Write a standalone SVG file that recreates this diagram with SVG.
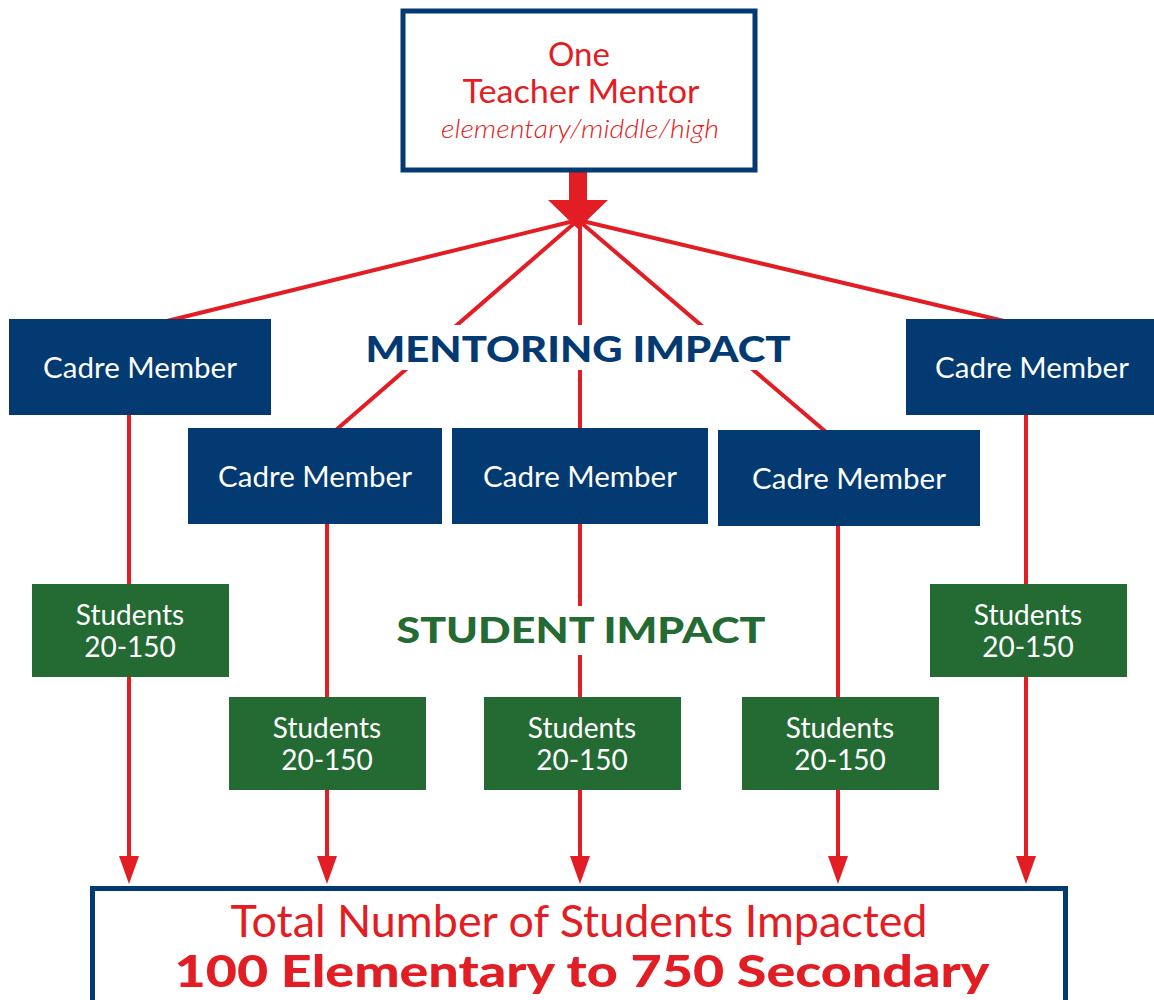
<svg xmlns="http://www.w3.org/2000/svg" width="1154" height="1000" viewBox="0 0 1154 1000">
<style>
.cadre rect{fill:#033a72}
.cadre text{fill:#fff;font-family:Lato,"Liberation Sans",sans-serif;font-size:29.5px;text-anchor:middle}
.stud rect{fill:#246a33}
.stud text{fill:#fff;font-family:Lato,"Liberation Sans",sans-serif;font-size:28px;text-anchor:middle}
.red{fill:#e31d24}
.conn line{stroke:#e31d24;stroke-width:4}
.head{font-family:Lato,"Liberation Sans",sans-serif;font-weight:900;font-size:36px;text-anchor:middle}
</style>
<defs>
<marker id="ah" markerUnits="userSpaceOnUse" markerWidth="28" markerHeight="20" refX="0" refY="10" orient="auto" viewBox="0 0 28 20">
<path d="M0,0 L28,10 L0,20 z" fill="#e31d24"/>
</marker>
</defs>
<rect width="1154" height="1000" fill="#fff"/>
<g id="connectors" class="conn">
<line x1="578" y1="220" x2="167" y2="321"/>
<line x1="578" y1="220" x2="336" y2="430"/>
<line x1="580" y1="220" x2="580" y2="430"/>
<line x1="578" y1="220" x2="826" y2="432"/>
<line x1="578" y1="220" x2="1004" y2="321"/>
<line x1="129" y1="414" x2="129" y2="856" marker-end="url(#ah)"/>
<line x1="327" y1="523" x2="327" y2="856" marker-end="url(#ah)"/>
<line x1="580" y1="523" x2="580" y2="856" marker-end="url(#ah)"/>
<line x1="838" y1="525" x2="838" y2="856" marker-end="url(#ah)"/>
<line x1="1026" y1="414" x2="1026" y2="856" marker-end="url(#ah)"/>
<polygon class="red" points="569,170 587,170 587,200 608,200 578,229 548,200 569,200"/>
</g>
<g id="mentor">
<rect x="403" y="11" width="352" height="159" fill="#fff" stroke="#033a72" stroke-width="5"/>
<text x="579" y="66" text-anchor="middle" font-family="Lato,'Liberation Sans',sans-serif" font-size="33" fill="#e31d24">One</text>
<text x="581" y="103" text-anchor="middle" font-family="Lato,'Liberation Sans',sans-serif" font-size="33" fill="#e31d24" textLength="237" lengthAdjust="spacingAndGlyphs">Teacher Mentor</text>
<text x="580" y="138" text-anchor="middle" font-family="Lato,'Liberation Sans',sans-serif" font-style="italic" font-weight="300" font-size="26" fill="#e31d24" textLength="278" lengthAdjust="spacingAndGlyphs">elementary/middle/high</text>
</g>
<g id="label-mentoring">
<rect x="355" y="325" width="445" height="45" fill="#fff"/>
<text class="head" x="578" y="362" fill="#033a72" textLength="425" lengthAdjust="spacingAndGlyphs">MENTORING IMPACT</text>
</g>
<g id="label-student">
<rect x="388" y="606" width="388" height="49" fill="#fff"/>
<text class="head" x="581" y="643" fill="#246a33" textLength="369" lengthAdjust="spacingAndGlyphs">STUDENT IMPACT</text>
</g>
<g id="cadre1" class="cadre"><rect x="9" y="319" width="262" height="96"/><text x="140" y="378">Cadre Member</text></g>
<g id="cadre2" class="cadre"><rect x="188" y="428" width="254" height="96"/><text x="315" y="487">Cadre Member</text></g>
<g id="cadre3" class="cadre"><rect x="452" y="428" width="256" height="96"/><text x="580" y="487">Cadre Member</text></g>
<g id="cadre4" class="cadre"><rect x="718" y="430" width="262" height="96"/><text x="849" y="489">Cadre Member</text></g>
<g id="cadre5" class="cadre"><rect x="906" y="319" width="248" height="96"/><text x="1032" y="378">Cadre Member</text></g>
<g id="stud1" class="stud"><rect x="32" y="584" width="197" height="93"/><text x="130" y="625">Students</text><text x="130" y="657">20-150</text></g>
<g id="stud2" class="stud"><rect x="229" y="697" width="197" height="93"/><text x="327" y="738">Students</text><text x="327" y="770">20-150</text></g>
<g id="stud3" class="stud"><rect x="484" y="697" width="197" height="93"/><text x="582" y="738">Students</text><text x="582" y="770">20-150</text></g>
<g id="stud4" class="stud"><rect x="742" y="697" width="197" height="93"/><text x="840" y="738">Students</text><text x="840" y="770">20-150</text></g>
<g id="stud5" class="stud"><rect x="930" y="584" width="197" height="93"/><text x="1028" y="625">Students</text><text x="1028" y="657">20-150</text></g>
<g id="total">
<rect x="92.5" y="888.5" width="973" height="130" fill="#fff" stroke="#033a72" stroke-width="5"/>
<text x="579" y="937" text-anchor="middle" font-family="Lato,'Liberation Sans',sans-serif" font-size="44" fill="#e31d24" textLength="697" lengthAdjust="spacingAndGlyphs">Total Number of Students Impacted</text>
<text x="582" y="987" text-anchor="middle" font-family="Lato,'Liberation Sans',sans-serif" font-weight="900" font-size="43" fill="#e31d24" textLength="815" lengthAdjust="spacingAndGlyphs">100 Elementary to 750 Secondary</text>
</g>
</svg>
